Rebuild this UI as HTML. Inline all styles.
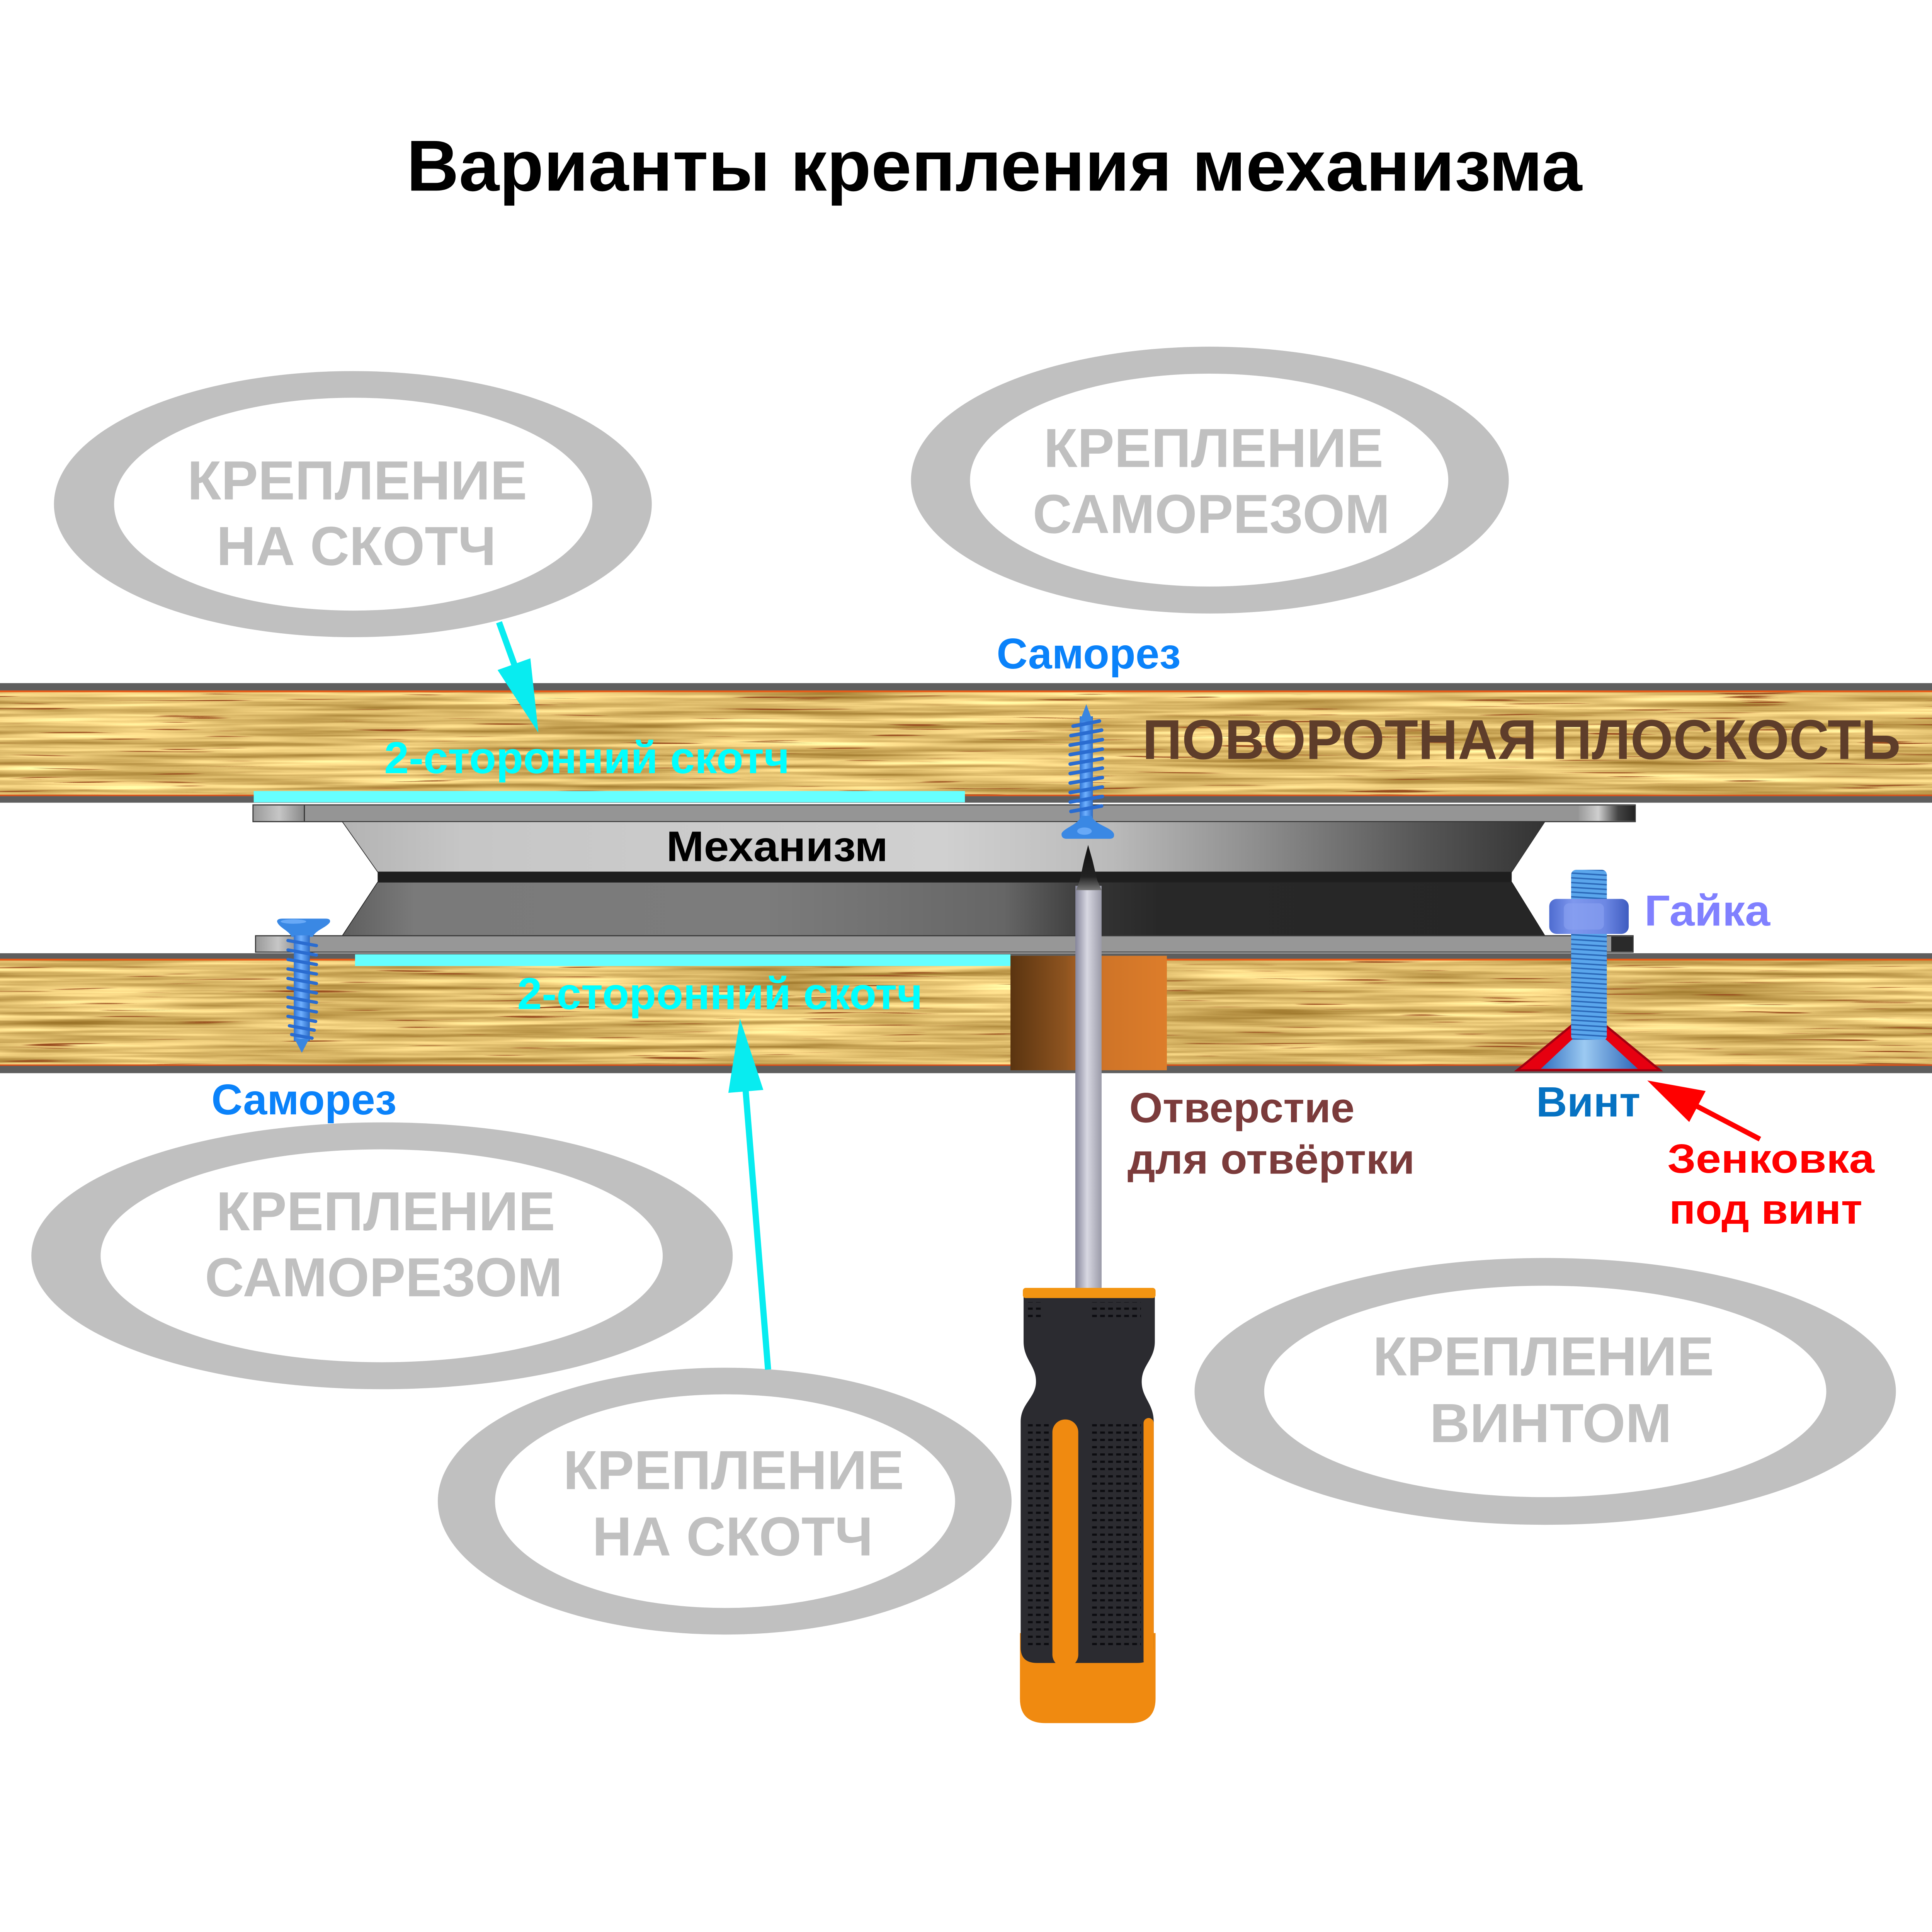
<!DOCTYPE html>
<html><head><meta charset="utf-8"><style>html,body{margin:0;padding:0;background:#fff;overflow:hidden;width:100%;height:100%}svg{display:block;width:100vw;height:100vh}text{font-family:"Liberation Sans","DejaVu Sans",sans-serif;font-weight:bold}</style></head><body>
<svg viewBox="0 0 5300 5300" preserveAspectRatio="none" xmlns="http://www.w3.org/2000/svg">
<defs>
<filter id="wood" x="0" y="0" width="1" height="1" color-interpolation-filters="sRGB">
<feTurbulence type="fractalNoise" baseFrequency="0.0016 0.06" numOctaves="3" seed="4" result="n1"/>
<feColorMatrix in="n1" type="matrix" values="0.7 0 0 0 0.52  0.75 0 0 0 0.36  0.7 0 0 0 0.07  0 0 0 0 1" result="w"/>
<feTurbulence type="fractalNoise" baseFrequency="0.003 0.12" numOctaves="2" seed="11" result="n2"/>
<feColorMatrix in="n2" type="matrix" values="0 0 0 0 0.6  0 0 0 0 0.3  0 0 0 0 0.12  10 0 0 0 -6.9" result="d"/>
<feComposite in="d" in2="w" operator="over"/>
</filter>
<linearGradient id="upper" gradientUnits="userSpaceOnUse" x1="939" y1="0" x2="4238" y2="0">
<stop offset="0" stop-color="#b3b3b3"/><stop offset="0.1" stop-color="#c6c6c6"/><stop offset="0.5" stop-color="#d0d0d0"/><stop offset="0.64" stop-color="#bababa"/><stop offset="0.76" stop-color="#8e8e8e"/><stop offset="0.9" stop-color="#555"/><stop offset="1" stop-color="#333"/>
</linearGradient>
<linearGradient id="lower" gradientUnits="userSpaceOnUse" x1="939" y1="0" x2="4238" y2="0">
<stop offset="0" stop-color="#5e5e5e"/><stop offset="0.06" stop-color="#7a7a7a"/><stop offset="0.35" stop-color="#7c7c7c"/><stop offset="0.55" stop-color="#666"/><stop offset="0.63" stop-color="#333"/><stop offset="0.68" stop-color="#282828"/><stop offset="1" stop-color="#262626"/>
</linearGradient>
<linearGradient id="plateL" x1="0" y1="0" x2="1" y2="0">
<stop offset="0" stop-color="#9a9a9a"/><stop offset="0.5" stop-color="#c6c6c6"/><stop offset="1" stop-color="#888"/>
</linearGradient>
<linearGradient id="plateR" x1="0" y1="0" x2="1" y2="0">
<stop offset="0" stop-color="#9a9a9a"/><stop offset="0.35" stop-color="#cfcfcf"/><stop offset="0.7" stop-color="#444"/><stop offset="1" stop-color="#222"/>
</linearGradient>
<linearGradient id="hole" x1="0" y1="0" x2="1" y2="0">
<stop offset="0" stop-color="#5a3410"/><stop offset="0.35" stop-color="#8e5420"/><stop offset="0.6" stop-color="#cf7428"/><stop offset="1" stop-color="#dd7d2a"/>
</linearGradient>
<linearGradient id="shaft" x1="0" y1="0" x2="1" y2="0">
<stop offset="0" stop-color="#85859a"/><stop offset="0.45" stop-color="#d8d8e2"/><stop offset="1" stop-color="#9a9aa8"/>
</linearGradient>
<linearGradient id="tip" x1="0" y1="0" x2="0" y2="1">
<stop offset="0" stop-color="#111"/><stop offset="0.7" stop-color="#222"/><stop offset="1" stop-color="#777"/>
</linearGradient>
<linearGradient id="nut" x1="0" y1="0" x2="1" y2="0">
<stop offset="0" stop-color="#4e6cd0"/><stop offset="0.3" stop-color="#7f98ee"/><stop offset="0.7" stop-color="#6d88e4"/><stop offset="1" stop-color="#3f5cc0"/>
</linearGradient>
<linearGradient id="cone" x1="0" y1="0" x2="1" y2="0">
<stop offset="0" stop-color="#2f6fc0"/><stop offset="0.45" stop-color="#9ccaf2"/><stop offset="1" stop-color="#2c66b8"/>
</linearGradient>
<linearGradient id="scr" x1="0" y1="0" x2="1" y2="0">
<stop offset="0" stop-color="#2e74d6"/><stop offset="0.45" stop-color="#6fb0ff"/><stop offset="1" stop-color="#2b6cc8"/>
</linearGradient>
<pattern id="bolt" x="4310" y="0" width="98" height="13" patternUnits="userSpaceOnUse">
<rect width="98" height="13" fill="#5aa6ec"/><path d="M0,3 L98,9" stroke="#2a68b8" stroke-width="4"/>
</pattern>
<pattern id="dots" x="0" y="0" width="22" height="20" patternUnits="userSpaceOnUse">
<rect x="4" y="7" width="13" height="6" fill="#0c0c10"/>
</pattern>
</defs>
<rect width="5300" height="5300" fill="#fff"/>

<!-- Title -->
<text x="1115" y="523" font-size="198" textLength="3225" lengthAdjust="spacingAndGlyphs" fill="#000">Варианты крепления механизма</text>

<!-- Ellipses -->
<g fill="#c0c0c0">
<ellipse cx="968" cy="1383" rx="820" ry="365"/>
<ellipse cx="3319" cy="1317" rx="820" ry="366"/>
<ellipse cx="1048" cy="3445" rx="962" ry="366"/>
<ellipse cx="1988" cy="4118" rx="787" ry="366"/>
<ellipse cx="4239" cy="3817" rx="962" ry="366"/>
</g>
<g fill="#fff">
<ellipse cx="969" cy="1383" rx="656" ry="292"/>
<ellipse cx="3317" cy="1317" rx="656" ry="292"/>
<ellipse cx="1047" cy="3445" rx="771" ry="292"/>
<ellipse cx="1989" cy="4118" rx="631" ry="293"/>
<ellipse cx="4239" cy="3817" rx="771" ry="290"/>
</g>
<g fill="#c0c0c0" font-size="151">
<text x="514" y="1370" textLength="932" lengthAdjust="spacingAndGlyphs">КРЕПЛЕНИЕ</text>
<text x="594" y="1550" textLength="767" lengthAdjust="spacingAndGlyphs">НА СКОТЧ</text>
<text x="2863" y="1281" textLength="932" lengthAdjust="spacingAndGlyphs">КРЕПЛЕНИЕ</text>
<text x="2833" y="1462" textLength="980" lengthAdjust="spacingAndGlyphs">САМОРЕЗОМ</text>
<text x="593" y="3375" textLength="930" lengthAdjust="spacingAndGlyphs">КРЕПЛЕНИЕ</text>
<text x="562" y="3556" textLength="981" lengthAdjust="spacingAndGlyphs">САМОРЕЗОМ</text>
<text x="1545" y="4085" textLength="935" lengthAdjust="spacingAndGlyphs">КРЕПЛЕНИЕ</text>
<text x="1625" y="4267" textLength="770" lengthAdjust="spacingAndGlyphs">НА СКОТЧ</text>
<text x="3766" y="3773" textLength="936" lengthAdjust="spacingAndGlyphs">КРЕПЛЕНИЕ</text>
<text x="3922" y="3956" textLength="664" lengthAdjust="spacingAndGlyphs">ВИНТОМ</text>
</g>

<!-- Top board -->
<rect x="0" y="1874" width="5300" height="328" fill="#5e5e5e"/>
<rect x="0" y="1896" width="5300" height="288" fill="#d9b561" filter="url(#wood)"/>
<rect x="0" y="1894" width="5300" height="5" fill="#e65a18"/>
<rect x="0" y="2180" width="5300" height="4" fill="#d8501a"/>
<!-- Bottom board -->
<rect x="0" y="2615" width="5300" height="329" fill="#5e5e5e"/>
<rect x="0" y="2632" width="5300" height="291" fill="#d9b561" filter="url(#wood)"/>
<rect x="0" y="2630" width="5300" height="5" fill="#e65a18"/>
<rect x="0" y="2920" width="5300" height="4" fill="#d8501a"/>

<!-- Tapes -->
<rect x="696" y="2170" width="1951" height="31" fill="#66ffff"/>
<rect x="974" y="2618" width="1798" height="32" fill="#66ffff"/>

<!-- Mechanism -->
<rect x="694" y="2208" width="3792" height="46" fill="#959595" stroke="#3a3a3a" stroke-width="3"/>
<rect x="696" y="2210" width="139" height="42" fill="url(#plateL)"/>
<line x1="835" y1="2209" x2="835" y2="2253" stroke="#333" stroke-width="3"/>
<rect x="4331" y="2210" width="154" height="42" fill="url(#plateR)"/>
<polygon points="939,2254 4238,2254 4147,2392 1036,2392" fill="url(#upper)" stroke="#333" stroke-width="2"/>
<rect x="1036" y="2392" width="3111" height="28" fill="#1e1e1e"/>
<polygon points="1036,2420 4147,2420 4238,2567 939,2567" fill="url(#lower)" stroke="#222" stroke-width="2"/>
<rect x="701" y="2567" width="3779" height="45" fill="#979797" stroke="#3a3a3a" stroke-width="3"/>
<rect x="703" y="2569" width="120" height="41" fill="url(#plateL)"/>
<rect x="4420" y="2569" width="59" height="41" fill="#2a2a2a"/>

<!-- Hole -->
<rect x="2772" y="2622" width="429" height="314" fill="url(#hole)"/>

<!-- Top screw -->
<g>
<rect x="2962" y="1965" width="36" height="285" fill="url(#scr)"/>
<polygon points="2980,1932 2962,1980 2998,1980" fill="#3a86e0"/>
<g stroke="#2a6cd0" stroke-width="10" stroke-linecap="round">
<path d="M2944,1992 L3016,1978"/><path d="M2938,2018 L3022,2003"/><path d="M2936,2044 L3024,2029"/><path d="M2936,2070 L3024,2055"/><path d="M2936,2096 L3024,2081"/><path d="M2936,2122 L3024,2107"/><path d="M2936,2148 L3024,2133"/><path d="M2936,2174 L3024,2159"/><path d="M2936,2200 L3024,2185"/><path d="M2938,2226 L3022,2211"/>
</g>
<path d="M2966,2238 C2960,2262 2915,2272 2912,2288 Q2912,2301 2926,2301 L3044,2301 Q3058,2301 3056,2288 C3052,2270 3000,2262 2995,2238 Z" fill="#3a88e4"/>
<ellipse cx="2975" cy="2280" rx="20" ry="10" fill="#7cb8ff" opacity="0.7"/>
</g>

<!-- Left screw -->
<g>
<path d="M760,2528 Q760,2520 775,2520 L893,2520 Q908,2520 905,2530 C895,2545 865,2552 858,2570 L800,2570 C792,2552 765,2545 760,2528 Z" fill="#3a88e4"/>
<ellipse cx="805" cy="2528" rx="35" ry="6" fill="#7cb8ff" opacity="0.7"/>
<rect x="806" y="2566" width="44" height="290" fill="url(#scr)"/>
<g stroke="#2a6cd0" stroke-width="9" stroke-linecap="round">
<path d="M790,2580 L868,2594"/><path d="M790,2606 L868,2620"/><path d="M790,2632 L868,2646"/><path d="M790,2658 L868,2672"/><path d="M790,2684 L868,2698"/><path d="M790,2710 L868,2724"/><path d="M790,2736 L868,2750"/><path d="M790,2762 L868,2776"/><path d="M790,2788 L866,2802"/><path d="M794,2814 L862,2826"/><path d="M800,2838 L856,2848"/>
</g>
<polygon points="808,2850 848,2850 828,2888" fill="#3a86e0"/>
</g>

<!-- Bolt -->
<polygon points="4162,2936 4358,2775 4554,2936" fill="#e60010" stroke="#a00010" stroke-width="6"/>
<rect x="4310" y="2386" width="98" height="470" fill="url(#bolt)" rx="14"/>
<polygon points="4227,2932 4312,2852 4406,2852 4493,2932" fill="url(#cone)"/>
<rect x="4250" y="2466" width="218" height="96" rx="20" fill="url(#nut)"/>
<rect x="4290" y="2478" width="110" height="72" rx="14" fill="#8aa2f2" opacity="0.6"/>

<!-- Screwdriver -->
<rect x="2950" y="2430" width="72" height="1115" fill="url(#shaft)"/>
<path d="M2985,2318 L2974,2360 L2962,2415 L2952,2442 L3022,2442 L3010,2415 L2997,2360 Z" fill="url(#tip)"/>
<path d="M2798,4480 H3170 V4660 Q3170,4727 3100,4727 H2868 Q2798,4727 2798,4660 Z" fill="#f08a10"/>
<path d="M2808,3556 H3168 V3680 C3168,3730 3132,3745 3132,3790 C3132,3835 3165,3850 3165,3900 V4520 Q3165,4562 3120,4562 H2845 Q2800,4562 2800,4520 V3900 C2800,3850 2842,3835 2842,3790 C2842,3745 2808,3730 2808,3680 Z" fill="#2b2b30"/>
<rect x="2995" y="3572" width="135" height="44" fill="url(#dots)"/>
<rect x="2812" y="3572" width="50" height="44" fill="url(#dots)"/>
<rect x="2995" y="3900" width="135" height="620" fill="url(#dots)"/>
<rect x="2812" y="3900" width="66" height="620" fill="url(#dots)"/>
<rect x="2887" y="3894" width="71" height="680" rx="35" fill="#f08a10"/>
<rect x="3137" y="3890" width="28" height="680" rx="14" fill="#f08a10"/>
<rect x="2806" y="3533" width="364" height="28" rx="8" fill="#f39512"/>

<!-- Labels -->
<text x="2734" y="1834" font-size="118" textLength="505" lengthAdjust="spacingAndGlyphs" fill="#0a82fa">Саморез</text>
<text x="3134" y="2082" font-size="154" textLength="2080" lengthAdjust="spacingAndGlyphs" fill="#5e3d2a">ПОВОРОТНАЯ ПЛОСКОСТЬ</text>
<text x="1054" y="2121" font-size="123" textLength="1112" lengthAdjust="spacingAndGlyphs" fill="#00ffff">2-сторонний скотч</text>
<text x="1828" y="2362" font-size="117" textLength="608" lengthAdjust="spacingAndGlyphs" fill="#000">Механизм</text>
<text x="4511" y="2539" font-size="119" textLength="345" lengthAdjust="spacingAndGlyphs" fill="#8080ff">Гайка</text>
<text x="1419" y="2768" font-size="123" textLength="1112" lengthAdjust="spacingAndGlyphs" fill="#00ffff">2-сторонний скотч</text>
<text x="580" y="3057" font-size="118" textLength="508" lengthAdjust="spacingAndGlyphs" fill="#0a82fa">Саморез</text>
<text x="3098" y="3079" font-size="116" textLength="618" lengthAdjust="spacingAndGlyphs" fill="#7b3b3b">Отверстие</text>
<text x="3093" y="3220" font-size="116" textLength="788" lengthAdjust="spacingAndGlyphs" fill="#7b3b3b">для отвёртки</text>
<text x="4214" y="3063" font-size="116" textLength="286" lengthAdjust="spacingAndGlyphs" fill="#0672c2">Винт</text>
<text x="4574" y="3217" font-size="112" textLength="568" lengthAdjust="spacingAndGlyphs" fill="#ff0000">Зенковка</text>
<text x="4579" y="3357" font-size="116" textLength="530" lengthAdjust="spacingAndGlyphs" fill="#ff0000">под винт</text>

<!-- Arrows -->
<line x1="1369" y1="1707" x2="1412" y2="1826" stroke="#08ecf0" stroke-width="17"/>
<polygon points="1477,2010 1365,1838 1455,1806" fill="#08ecf0"/>
<line x1="2107" y1="3757" x2="2045" y2="2985" stroke="#08ecf0" stroke-width="17"/>
<polygon points="2030,2795 2094,2990 1998,2998" fill="#08ecf0"/>
<line x1="4828" y1="3125" x2="4650" y2="3032" stroke="#ff0000" stroke-width="14"/>
<polygon points="4519,2964 4634,3078 4679,2993" fill="#ff0000"/>
</svg>
</body></html>
